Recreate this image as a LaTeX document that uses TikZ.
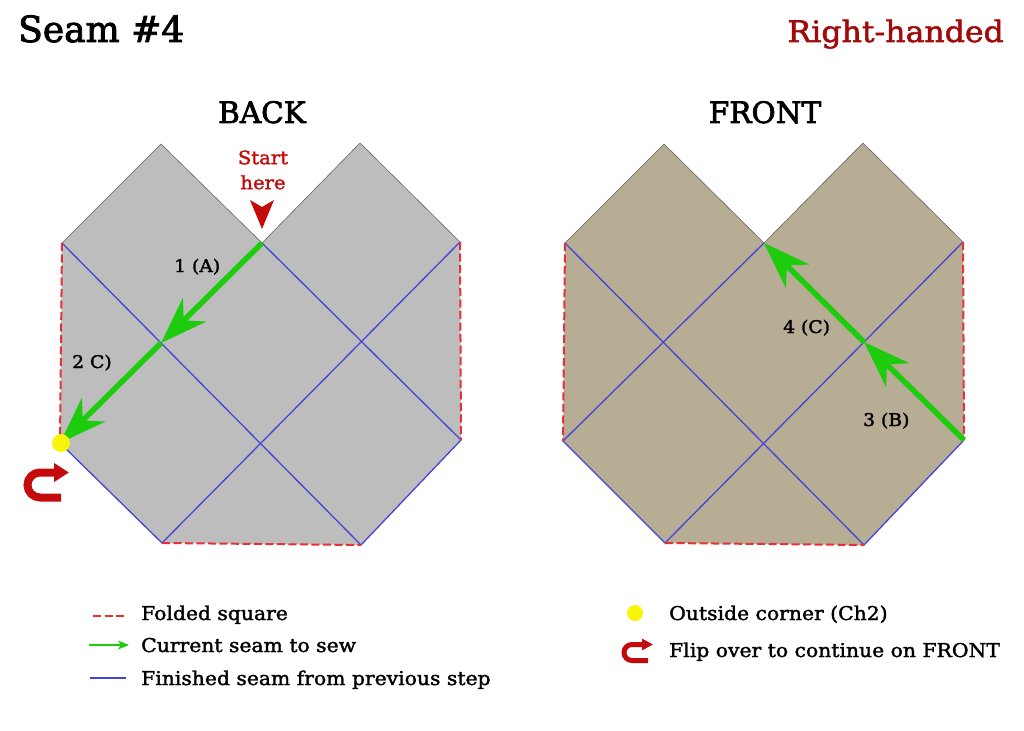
\documentclass[tikz,border=0pt]{standalone}
\usepackage{fontspec}
\usetikzlibrary{arrows.meta}
\setmainfont{DejaVu Serif}[FakeBold=1.8,FakeStretch=1.07]
\newfontfamily\headfont{DejaVu Serif}[FakeBold=2.4]
\definecolor{backgray}{RGB}{189,189,189}
\definecolor{fronttan}{RGB}{183,172,148}
\definecolor{seamblue}{RGB}{68,68,214}
\definecolor{seamgreen}{RGB}{30,204,14}
\definecolor{foldred}{RGB}{232,48,56}
\definecolor{darkred}{RGB}{196,10,10}
\definecolor{titlered}{RGB}{160,10,10}
\definecolor{cornery}{RGB}{248,244,10}

\begin{document}
\begin{tikzpicture}[x=1pt,y=-1pt]
        \tikzstyle{lbl}=[inner sep=0pt, anchor=base west, font=\fontsize{17.5}{21}\selectfont, text=black]
        \tikzstyle{legend}=[inner sep=0pt, anchor=base west, font=\fontsize{19}{22}\selectfont, text=black]
        \tikzstyle{heading}=[inner sep=0pt, anchor=base, font=\headfont\fontsize{29.5}{34}\selectfont, text=black]
        \tikzstyle{outline}=[draw=black!60, line width=0.6pt, line join=miter]
        \tikzstyle{seam}=[seamblue, line width=1.3pt]
        \tikzstyle{fold}=[foldred, line width=2pt, dash pattern=on 8pt off 3.5pt]
        \tikzstyle{sew}=[seamgreen, line width=5.5pt, -{Stealth[length=47pt, width=33pt, inset=15pt]}]
        \tikzstyle{flip}=[darkred, line width=8pt, -{Triangle[length=15pt, width=18pt]}]
        \tikzstyle{dot}=[circle, fill=cornery, inner sep=0pt, minimum size=18pt]

        \useasboundingbox (0,0) rectangle (1024,730);

        % back
        \coordinate (a1) at (62,243);
        \coordinate (a2) at (161,144);
        \coordinate (a3) at (262,243);
        \coordinate (a4) at (360,143);
        \coordinate (a5) at (460,242);
        \coordinate (a6) at (461,440);
        \coordinate (a7) at (361,545);
        \coordinate (a8) at (162,543);
        \coordinate (a9) at (60,443);
        \coordinate (am) at (161,343);

        \fill[backgray] (a1) -- (a2) -- (a3) -- (a4) -- (a5) -- (a6) -- (a7) -- (a8) -- (a9) -- cycle;
        \draw[outline] (a1) -- (a2) -- (a3) -- (a4) -- (a5);
        \draw[seam] (a1) -- (a7);
        \draw[seam] (a3) -- (a6) -- (a7);
        \draw[seam] (a5) -- (a8) -- (a9);
        \draw[fold] (a1) -- (a9);
        \draw[fold] (a5) -- (a6);
        \draw[fold] (a8) -- (a7);
        \draw[sew] (a3) -- (am);
        \draw[sew] (am) -- (a9);

        % front
        \coordinate (b1) at (565,243);
        \coordinate (b2) at (664,144);
        \coordinate (b3) at (764,243);
        \coordinate (b4) at (863,143);
        \coordinate (b5) at (963,242);
        \coordinate (b6) at (964,440);
        \coordinate (b7) at (864,545);
        \coordinate (b8) at (665,543);
        \coordinate (b9) at (563,441);
        \coordinate (bm) at (864,342);

        \fill[fronttan] (b1) -- (b2) -- (b3) -- (b4) -- (b5) -- (b6) -- (b7) -- (b8) -- (b9) -- cycle;
        \draw[outline] (b1) -- (b2) -- (b3) -- (b4) -- (b5);
        \draw[seam] (b1) -- (b7) -- (b6);
        \draw[seam] (b5) -- (b8) -- (b9) -- (b3);
        \draw[fold] (b1) -- (b9);
        \draw[fold] (b5) -- (b6);
        \draw[fold] (b8) -- (b7);
        \draw[sew] (b6) -- (bm);
        \draw[sew] (bm) -- (b3);

        % markers
        \node[dot] (corner) at (61,443) {};
        \coordinate (startl) at (250,200);
        \coordinate (startt) at (262,229);
        \coordinate (startr) at (274,200);
        \coordinate (startn) at (262,207);
        \fill[darkred] (startl) -- (startt) -- (startr) -- (startn) -- cycle;
        \node[inner sep=0pt, text=darkred, align=center, font=\fontsize{18.3}{25}\selectfont] (start) at (263,170) {Start\\here};
        \draw[flip] (61,497.5) -- (40,497.5) arc[start angle=270, end angle=90, radius=12.5pt] -- (69,472.5);

        % texts
        \node[heading, anchor=base west, font=\headfont\fontsize{36}{40}\selectfont] (title) at (18,42) {Seam \#4};
        \node[heading, anchor=base east, font=\fontsize{29.5}{34}\selectfont, text=titlered] (hand) at (1004,42) {Right-handed};
        \node[heading] (back) at (262,123) {BACK};
        \node[heading] (front) at (765,123) {FRONT};
        \node[lbl] (s1) at (174,272) {1 (A)};
        \node[lbl] (s2) at (72,368) {2 C)};
        \node[lbl] (s3) at (863,426) {3 (B)};
        \node[lbl] (s4) at (783,333) {4 (C)};

        % legend
        \coordinate (k1a) at (93,616);
        \coordinate (k1b) at (126,616);
        \coordinate (k2a) at (89,645);
        \coordinate (k2b) at (129,645);
        \coordinate (k3a) at (90,678);
        \coordinate (k3b) at (126,678);
        \draw[fold] (k1a) -- (k1b);
        \draw[seamgreen, line width=1.3pt, -{Stealth[length=11pt, width=9pt, inset=3pt]}] (k2a) -- (k2b);
        \draw[seam] (k3a) -- (k3b);
        \node[legend] (k1) at (141,620) {Folded square};
        \node[legend] (k2) at (141,652) {Current seam to sew};
        \node[legend] (k3) at (141,685) {Finished seam from previous step};

        \node[dot, minimum size=16pt] (k4dot) at (635,613) {};
        \draw[flip, line width=5pt, -{Triangle[length=11pt, width=11pt]}] (648,660.5) -- (632,660.5) arc[start angle=270, end angle=90, radius=8pt] -- (653,644.5);
        \node[legend] (k4) at (669,620) {Outside corner (Ch2)};
        \node[legend] (k5) at (669,657) {Flip over to continue on FRONT};
\end{tikzpicture}
\end{document}
